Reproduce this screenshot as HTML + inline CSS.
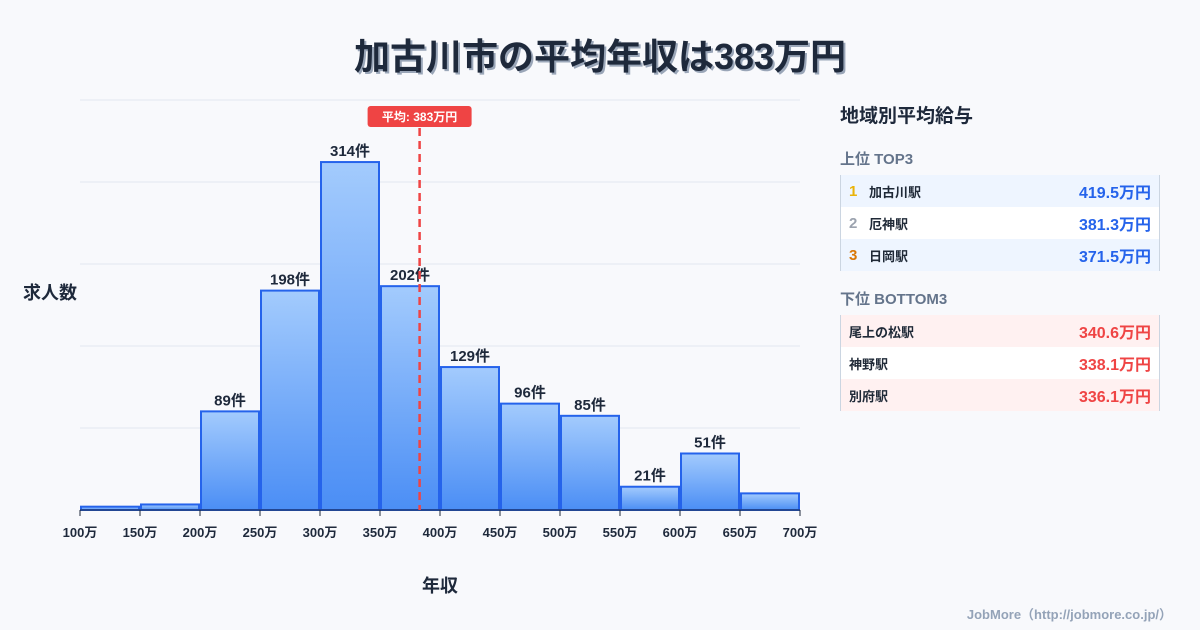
<!DOCTYPE html>
<html><head><meta charset="utf-8">
<style>
body{margin:0;width:1200px;height:630px;background:#f8f9fc;font-family:"Liberation Sans","Noto Sans CJK JP",sans-serif;position:relative;overflow:hidden;color:#1f2937}
.title{position:absolute;left:0;width:1200px;top:28px;text-align:center;font-size:36px;font-weight:bold;color:#1e293b;text-shadow:2px 2px 0 #9aa6b8}
.panel{position:absolute;left:840px;top:96px;width:320px}
.ph{font-size:19px;font-weight:bold;color:#1e293b;margin-top:5px}
.sec{font-size:15px;font-weight:bold;color:#64748b;margin:20px 0 6px}
.sec2{margin-top:17px}
.tbl{border-left:1px solid #cbd5e1;border-right:1px solid #cbd5e1}
.row{height:32px;display:flex;align-items:center;font-size:13px;font-weight:bold;padding:0 8px}
.row .r{width:20px;font-size:15px}
.row .n{flex:1}
.row .v{font-size:16px}
.blue .v{color:#2563eb}.red .v{color:#ef4444}
.foot{position:absolute;right:28px;top:604px;font-size:13px;font-weight:bold;color:#94a3b8}
</style></head><body>
<div class="title">加古川市の平均年収は383万円</div>
<svg id="chart" width="830" height="630" style="position:absolute;left:0;top:0">
<defs><linearGradient id="g" x1="0" y1="0" x2="0" y2="1"><stop offset="0" stop-color="#a3cbfd"/><stop offset="1" stop-color="#4b8ef5"/></linearGradient></defs>
</svg>
<div class="panel">
<div class="ph">地域別平均給与</div>
<div class="sec">上位 TOP3</div>
<div class="tbl blue">
<div class="row" style="background:#eef5ff"><span class="r" style="color:#eab308">1</span><span class="n">加古川駅</span><span class="v">419.5万円</span></div>
<div class="row" style="background:#fff"><span class="r" style="color:#9ca3af">2</span><span class="n">厄神駅</span><span class="v">381.3万円</span></div>
<div class="row" style="background:#eef5ff"><span class="r" style="color:#d97706">3</span><span class="n">日岡駅</span><span class="v">371.5万円</span></div>
</div>
<div class="sec sec2">下位 BOTTOM3</div>
<div class="tbl red">
<div class="row" style="background:#fff1f1"><span class="n">尾上の松駅</span><span class="v">340.6万円</span></div>
<div class="row" style="background:#fff"><span class="n">神野駅</span><span class="v">338.1万円</span></div>
<div class="row" style="background:#fff1f1"><span class="n">別府駅</span><span class="v">336.1万円</span></div>
</div>
</div>
<div class="foot">JobMore（http://jobmore.co.jp/）</div>
<script>
const binStarts=[100,150,200,250,300,350,400,450,500,550,600,650];
const counts=[3,5,89,198,314,202,129,96,85,21,51,15];
const shownLabels=[false,false,true,true,true,true,true,true,true,true,true,false];
const tickLabels=[100,150,200,250,300,350,400,450,500,550,600,650,700];
const meanValue=383;
const yMax=370;
const NS="http://www.w3.org/2000/svg";
const svg=document.getElementById('chart');
const X0=80,X1=800,Y0=510,Y1=100;
const xs=v=>X0+(v-100)/600*(X1-X0);
const ys=v=>Y0-v/yMax*(Y0-Y1);
function mk(t,a){const e=document.createElementNS(NS,t);for(const k in a)e.setAttribute(k,a[k]);svg.appendChild(e);return e;}
for(let i=0;i<=5;i++){const y=Y0-i*(Y0-Y1)/5;const l=mk('line',{x1:X0,x2:X1,y1:y,y2:y,stroke:'#e2e8f0'});

}
counts.forEach((c,i)=>{const x=xs(binStarts[i])+1,w=xs(binStarts[i]+50)-xs(binStarts[i])-2,y=ys(c);
const r=mk('rect',{x:x,y:y,width:w,height:Y0-y,fill:'url(#g)',stroke:'#2563eb','stroke-width':2});


if(shownLabels[i]){const t=mk('text',{x:x+w/2,y:y-6,'text-anchor':'middle','font-size':15,'font-weight':'bold',fill:'#1e293b'});t.textContent=c+'件';

}});
mk('line',{x1:X0,x2:X1,y1:Y0,y2:Y0,stroke:'#1e293b'});
tickLabels.forEach(v=>{const x=xs(v);mk('line',{x1:x,x2:x,y1:Y0,y2:Y0+6,stroke:'#1e293b'});
const t=mk('text',{x:x,y:537,'text-anchor':'middle','font-size':13,'font-weight':'bold',fill:'#1e293b'});t.textContent=v+'万';

});
const mx=xs(meanValue);
const ml=mk('line',{x1:mx,x2:mx,y1:128,y2:Y0,stroke:'#ef4444','stroke-width':2.5,'stroke-dasharray':'8,5'});


const mb=mk('rect',{x:mx-52,y:106,width:104,height:21,rx:3,fill:'#ef4444'});


const mt=mk('text',{x:mx,y:121,'text-anchor':'middle','font-size':12,'font-weight':'bold',fill:'#fff'});mt.textContent='平均: '+meanValue+'万円';


const yt=mk('text',{x:50,y:299,'text-anchor':'middle','font-size':18,'font-weight':'bold',fill:'#1e293b'});yt.textContent='求人数';


const xt=mk('text',{x:440,y:592,'text-anchor':'middle','font-size':18,'font-weight':'bold',fill:'#1e293b'});xt.textContent='年収';


</script>
</body></html>
